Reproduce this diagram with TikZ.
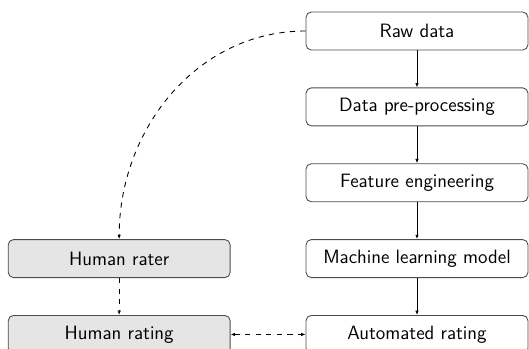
\documentclass[tikz,border=0pt]{standalone}
\usepackage{tikz}
\usetikzlibrary{arrows.meta,positioning}
\definecolor{ratergray}{gray}{0.9}

\begin{document}
\begin{tikzpicture}[x=0.02cm,y=-0.02cm,node distance=0.74cm,
    box/.style={draw=black!70,line width=0.5pt,rounded corners=3pt,minimum width=4.44cm,minimum height=0.76cm,inner sep=0pt,font=\sffamily\fontsize{11}{13}\selectfont},
    humanbox/.style={box,fill=ratergray},
    flow/.style={-{Latex[length=2.5pt,width=2pt]},line width=0.5pt},
    dashflow/.style={flow,dashed}]
    \useasboundingbox (0,0) rectangle (529,349);
    %Pipeline
    \node[box] (raw) at (417,31) {Raw data};
    \node[box,below=of raw] (prep) {Data pre-processing};
    \node[box,below=of prep] (feat) {Feature engineering};
    \node[box,below=of feat] (model) {Machine learning model};
    \node[box,below=of model] (auto) {Automated rating};
    %Human side
    \node[humanbox,left=1.5cm of model] (rater) {Human rater};
    \node[humanbox,left=1.5cm of auto] (rating) {Human rating};
    %Arrows
    \draw[flow] (raw) -- (prep);
    \draw[flow] (prep) -- (feat);
    \draw[flow] (feat) -- (model);
    \draw[flow] (model) -- (auto);
    \draw[dashflow] (raw.west) to[out=180,in=90] (rater.north);
    \draw[dashflow] (rater) -- (rating);
    \draw[dashflow,{Latex[length=2.5pt,width=2pt]}-{Latex[length=2.5pt,width=2pt]}] (rating) -- (auto);
\end{tikzpicture}
\end{document}
